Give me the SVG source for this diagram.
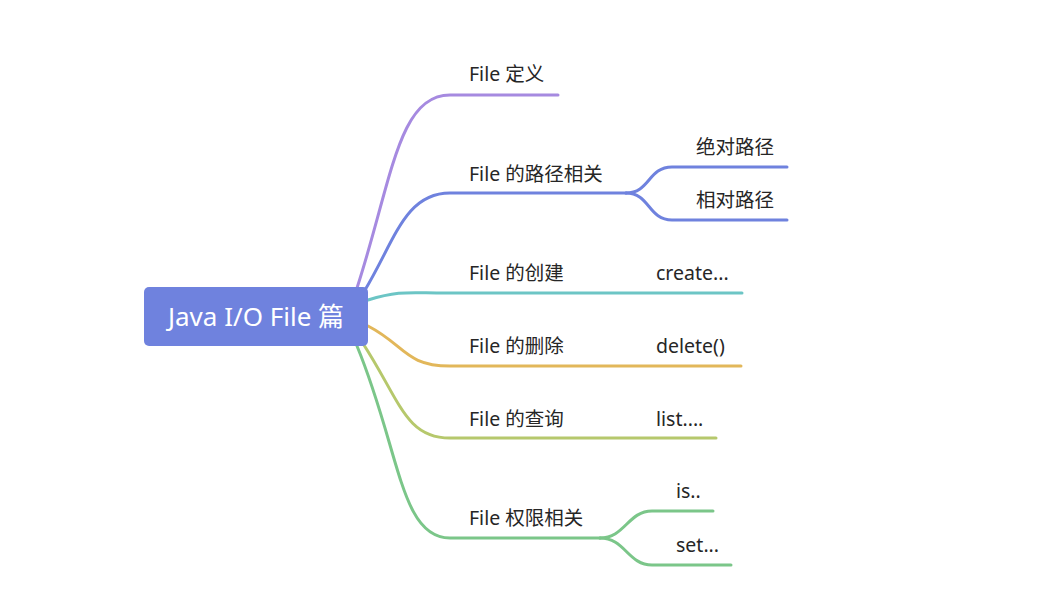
<svg xmlns="http://www.w3.org/2000/svg" width="1061" height="606" viewBox="0 0 1061 606">
<style>
.c{fill:none;stroke-width:3;stroke-linecap:round}
.t{font-family:"Noto Sans","Noto Sans CJK SC",sans-serif;font-size:19.5px;fill:#262626}
.r{font-family:"Noto Sans","Noto Sans CJK SC",sans-serif;font-size:26px;fill:#ffffff}
</style>
<rect width="1061" height="606" fill="#ffffff"/>
<g id="connectors">
<path class="c" stroke="#a68ae0" d="M357 288 C392 180,398 95,450 95 L558 95"/>
<path class="c" stroke="#6f82de" d="M365 290 C395 240,405 193,450 193 L626 193"/>
<path class="c" stroke="#6f82de" d="M626 193 C650 193,648 167,672 167 L787 167"/>
<path class="c" stroke="#6f82de" d="M626 193 C650 193,648 220,672 220 L787 220"/>
<path class="c" stroke="#6cc5c5" d="M368 300 C400 290,410 293,445 293 L742 293"/>
<path class="c" stroke="#e2b75a" d="M368 326 C405 345,405 366,450 366 L741 366"/>
<path class="c" stroke="#b6c86c" d="M362 342 C400 400,405 438,450 438 L716 438"/>
<path class="c" stroke="#7bc689" d="M357 346 C400 450,400 538,450 538 L600 538"/>
<path class="c" stroke="#7bc689" d="M600 538 C625 538,628 511,652 511 L713 511"/>
<path class="c" stroke="#7bc689" d="M600 538 C625 538,628 565,652 565 L731 565"/>
</g>
<g id="root">
<rect x="144" y="287" width="224" height="59" rx="5" fill="#6f82de"/>
<text class="r" x="256" y="326" text-anchor="middle">Java I/O File 篇</text>
</g>
<g id="n1"><text class="t" x="469" y="81">File 定义</text></g>
<g id="n2"><text class="t" x="469" y="181">File 的路径相关</text></g>
<g id="n2a"><text class="t" x="696" y="154">绝对路径</text></g>
<g id="n2b"><text class="t" x="696" y="207">相对路径</text></g>
<g id="n3"><text class="t" x="469" y="280">File 的创建</text></g>
<g id="n3a"><text class="t" x="656" y="280">create...</text></g>
<g id="n4"><text class="t" x="469" y="353">File 的删除</text></g>
<g id="n4a"><text class="t" x="656" y="353">delete()</text></g>
<g id="n5"><text class="t" x="469" y="426">File 的查询</text></g>
<g id="n5a"><text class="t" x="656" y="426">list....</text></g>
<g id="n6"><text class="t" x="469" y="525">File 权限相关</text></g>
<g id="n6a"><text class="t" x="676" y="498">is..</text></g>
<g id="n6b"><text class="t" x="676" y="552">set...</text></g>
</svg>
